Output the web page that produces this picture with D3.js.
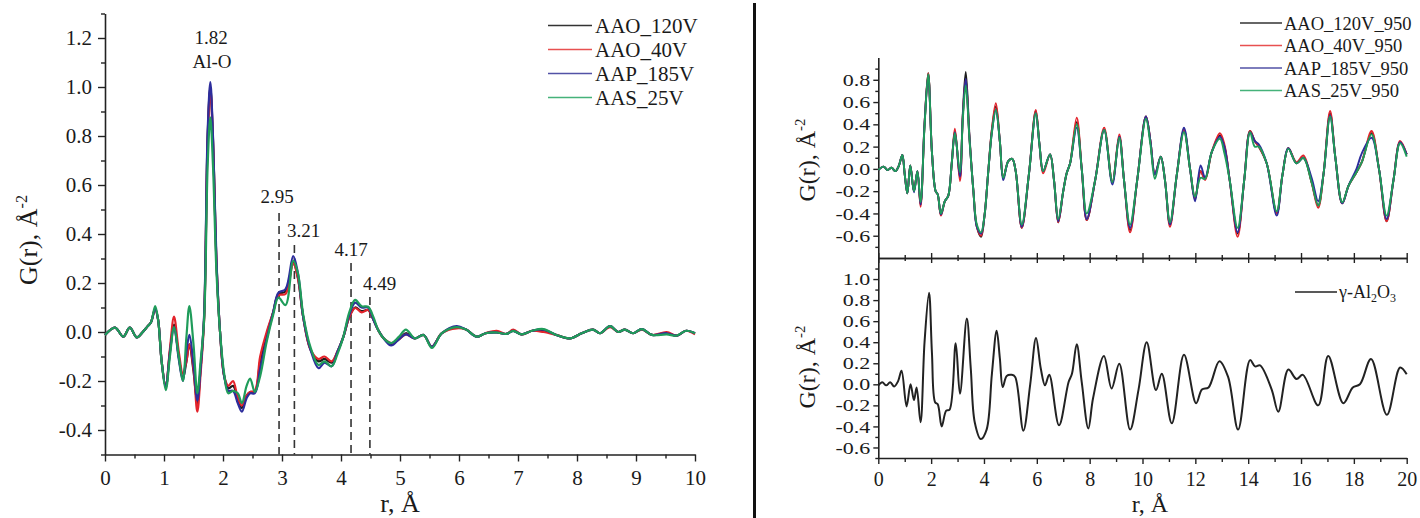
<!DOCTYPE html>
<html>
<head>
<meta charset="utf-8">
<script src="https://cdn.jsdelivr.net/npm/d3@7"></script>
<style>
  body { margin: 0; background: #fff; }
  svg { display: block; font-family: "Liberation Serif", "Times New Roman", serif; }
</style>
</head>
<body>
<svg id="chart" width="1420" height="518"></svg>
<script>
// ---- left panel: G(r) of as-prepared films, r = 0..10 ----
const rLeft = [
  0, 0.17, 0.31, 0.42, 0.54, 0.64, 0.71, 0.78, 0.85, 0.90,
  0.96, 1.03, 1.10, 1.17, 1.25, 1.32, 1.38, 1.43, 1.50, 1.565,
  1.62, 1.68, 1.74, 1.785, 1.83, 1.89, 1.95, 2.02, 2.09, 2.17,
  2.25, 2.32, 2.40, 2.46, 2.54, 2.63, 2.74, 2.85, 2.94, 3.06,
  3.19, 3.27, 3.36, 3.48, 3.62, 3.72, 3.84, 3.94, 4.04, 4.14,
  4.24, 4.35, 4.46, 4.55, 4.63, 4.72, 4.85, 4.98, 5.10, 5.25,
  5.40, 5.54, 5.71, 5.96, 6.12, 6.30, 6.45, 6.64, 6.80, 6.92,
  7.06, 7.24, 7.43, 7.65, 7.88, 8.08, 8.27, 8.39, 8.56, 8.70,
  8.81, 8.95, 9.10, 9.27, 9.52, 9.69, 9.85, 10
];
const gAAO120 = [
  -0.012, 0.018, -0.019, 0.018, -0.022, 0.0, 0.02, 0.04, 0.095, 0.05,
  -0.12, -0.225, -0.08, 0.03, -0.1, -0.19, -0.12, -0.05, -0.16, -0.29,
  -0.15, 0.06, 0.8, 1.0, 0.79, 0.28, 0.0, -0.18, -0.23, -0.22,
  -0.27, -0.31, -0.26, -0.245, -0.245, -0.12, -0.01, 0.08, 0.155, 0.165,
  0.285, 0.22, 0.06, -0.07, -0.12, -0.11, -0.125, -0.08, -0.02, 0.06,
  0.1, 0.085, 0.09, 0.05, 0.008, -0.025, -0.05, -0.03, -0.005, -0.026,
  -0.012, -0.06, -0.005, 0.02, 0.01, -0.019, -0.005, -0.002, -0.008, 0.005,
  -0.01, 0.005, 0.008, -0.012, -0.026, -0.005, 0.01, -0.005, 0.024, 0.0,
  0.01, -0.005, 0.012, -0.012, -0.005, -0.015, 0.005, -0.005
];
const gAAO40 = [
  -0.012, 0.018, -0.019, 0.018, -0.022, 0.0, 0.02, 0.04, 0.095, 0.05,
  -0.12, -0.225, -0.07, 0.063, -0.08, -0.17, -0.12, -0.05, -0.15, -0.325,
  -0.17, 0.05, 0.78, 0.99, 0.78, 0.28, 0.0, -0.18, -0.22, -0.2,
  -0.27, -0.3, -0.26, -0.245, -0.24, -0.1, 0.0, 0.08, 0.15, 0.155,
  0.28, 0.22, 0.06, -0.07, -0.11, -0.1, -0.12, -0.08, -0.02, 0.06,
  0.098, 0.08, 0.09, 0.05, 0.008, -0.025, -0.045, -0.03, -0.01, -0.026,
  -0.012, -0.06, -0.005, 0.015, 0.01, -0.019, -0.005, 0.005, -0.008, 0.01,
  -0.01, 0.005, 0.0, -0.012, -0.026, -0.005, 0.01, -0.005, 0.02, 0.0,
  0.01, -0.005, 0.01, -0.012, 0.0, -0.015, 0.005, -0.01
];
const gAAP185 = [
  -0.012, 0.018, -0.019, 0.018, -0.022, 0.0, 0.02, 0.04, 0.095, 0.05,
  -0.12, -0.225, -0.085, 0.02, -0.11, -0.2, -0.08, -0.012, -0.13, -0.28,
  -0.15, 0.07, 0.82, 1.02, 0.8, 0.29, 0.0, -0.18, -0.24, -0.24,
  -0.29, -0.325, -0.27, -0.25, -0.25, -0.15, -0.03, 0.08, 0.16, 0.175,
  0.31, 0.24, 0.06, -0.07, -0.148, -0.125, -0.14, -0.08, -0.02, 0.07,
  0.12, 0.1, 0.1, 0.05, 0.008, -0.025, -0.055, -0.03, -0.01, -0.026,
  -0.012, -0.06, -0.005, 0.024, 0.01, -0.019, -0.005, -0.002, -0.008, 0.005,
  -0.01, 0.005, 0.01, -0.012, -0.026, -0.005, 0.01, -0.005, 0.024, 0.0,
  0.01, -0.005, 0.012, -0.012, -0.005, -0.015, 0.005, -0.005
];
const gAAS25 = [
  -0.012, 0.018, -0.019, 0.018, -0.022, 0.0, 0.02, 0.04, 0.106, 0.05,
  -0.12, -0.237, -0.1, 0.02, -0.1, -0.2, -0.02, 0.106, -0.05, -0.25,
  -0.12, 0.05, 0.68, 0.876, 0.68, 0.24, 0.0, -0.17, -0.25, -0.24,
  -0.25, -0.29, -0.22, -0.19, -0.245, -0.18, -0.04, 0.07, 0.14, 0.11,
  0.29, 0.24, 0.07, -0.06, -0.135, -0.12, -0.14, -0.09, -0.02, 0.08,
  0.131, 0.105, 0.103, 0.06, 0.008, -0.025, -0.045, -0.02, 0.01, -0.026,
  -0.012, -0.065, -0.005, 0.02, 0.01, -0.019, -0.005, -0.002, -0.008, 0.005,
  -0.01, 0.005, 0.012, -0.012, -0.026, -0.005, 0.01, -0.005, 0.024, 0.0,
  0.01, -0.005, 0.012, -0.012, -0.01, -0.015, 0.005, -0.005
];
const leftNames = ['AAO_120V', 'AAO_40V', 'AAP_185V', 'AAS_25V'];

// peak markers on the left panel
const peakR = [2.95, 3.21, 4.17, 4.49];
const peakLabels = ['2.95', '3.21', '4.17', '4.49'];

// ---- right top: annealed at 950, r = 0..20 ----
const rTop = [
  0, 0.2, 0.35, 0.5, 0.65, 0.78, 0.91, 1.0, 1.10, 1.21,
  1.35, 1.48, 1.60, 1.75, 1.89, 2.03, 2.17, 2.25, 2.37, 2.52,
  2.65, 2.78, 2.90, 3.09, 3.20, 3.31, 3.45, 3.60, 3.73, 3.89,
  4.02, 4.16, 4.30, 4.45, 4.60, 4.73, 4.92, 5.07, 5.20, 5.43,
  5.70, 5.96, 6.10, 6.24, 6.50, 6.65, 6.81, 7.00, 7.13, 7.26,
  7.51, 7.70, 7.89, 8.21, 8.55, 8.86, 9.12, 9.30, 9.53, 9.80,
  10.13, 10.30, 10.47, 10.69, 10.85, 11.04, 11.30, 11.57, 11.80, 11.99,
  12.20, 12.37, 12.62, 12.93, 13.10, 13.30, 13.60, 13.85, 14.07, 14.25,
  14.40, 14.70, 15.08, 15.30, 15.52, 15.83, 16.09, 16.40, 16.65, 16.85,
  17.10, 17.30, 17.56, 17.80, 18.10, 18.30, 18.67, 18.95, 19.24, 19.50,
  19.75, 20
];
const gAAO120_950 = [
  -0.01, 0.02, -0.01, 0.01, -0.02, 0.03, 0.126, -0.05, -0.22, 0.03,
  -0.2, -0.02, -0.32, 0.4, 0.86, 0.15, -0.2, -0.23, -0.41, -0.29,
  -0.24, 0.05, 0.34, -0.08, 0.5, 0.87, 0.3, -0.2, -0.52, -0.61,
  -0.42, -0.03, 0.35, 0.56, 0.25, -0.08, 0.07, 0.09, -0.02, -0.53,
  -0.05, 0.52, 0.22, -0.02, 0.13, -0.1, -0.48, -0.2, -0.04, 0.05,
  0.42, 0.0, -0.46, -0.1, 0.35, -0.12, 0.29, -0.1, -0.55, -0.1,
  0.47, 0.25, -0.05, 0.11, -0.1, -0.5, -0.05, 0.35, 0.0, -0.27,
  -0.02, -0.09, 0.15, 0.3, 0.2, -0.1, -0.58, -0.1, 0.34, 0.25,
  0.2, 0.05, -0.4, -0.05, 0.185, 0.05, 0.1, -0.12, -0.33, -0.05,
  0.5, 0.1, -0.31, -0.15, -0.03, 0.06, 0.32, 0.0, -0.47, -0.1,
  0.24, 0.13
];
const gAAO40_950 = [
  -0.01, 0.02, -0.01, 0.01, -0.02, 0.03, 0.126, -0.05, -0.22, 0.03,
  -0.2, -0.02, -0.34, 0.4, 0.86, 0.15, -0.2, -0.23, -0.42, -0.29,
  -0.24, 0.05, 0.36, -0.11, 0.48, 0.8, 0.28, -0.2, -0.52, -0.6,
  -0.42, -0.03, 0.36, 0.59, 0.25, -0.08, 0.07, 0.09, -0.02, -0.53,
  -0.05, 0.53, 0.22, -0.04, 0.13, -0.1, -0.48, -0.2, -0.04, 0.05,
  0.46, 0.0, -0.46, -0.1, 0.37, -0.12, 0.31, -0.1, -0.57, -0.1,
  0.47, 0.25, -0.05, 0.11, -0.1, -0.52, -0.05, 0.35, 0.0, -0.27,
  -0.02, -0.1, 0.15, 0.32, 0.22, -0.1, -0.61, -0.1, 0.34, 0.25,
  0.2, 0.05, -0.4, -0.05, 0.185, 0.06, 0.12, -0.12, -0.35, -0.05,
  0.52, 0.1, -0.31, -0.15, -0.03, 0.06, 0.34, 0.0, -0.47, -0.1,
  0.25, 0.13
];
const gAAP185_950 = [
  -0.01, 0.02, -0.01, 0.01, -0.02, 0.03, 0.126, -0.05, -0.22, 0.03,
  -0.21, -0.02, -0.32, 0.4, 0.84, 0.15, -0.2, -0.23, -0.41, -0.29,
  -0.24, 0.05, 0.33, -0.07, 0.48, 0.81, 0.28, -0.2, -0.52, -0.58,
  -0.42, -0.03, 0.33, 0.53, 0.25, -0.1, 0.07, 0.09, -0.02, -0.52,
  -0.05, 0.5, 0.22, -0.02, 0.13, -0.1, -0.47, -0.2, -0.04, 0.05,
  0.37, 0.0, -0.45, -0.1, 0.35, -0.14, 0.29, -0.1, -0.53, -0.1,
  0.47, 0.25, -0.05, 0.11, -0.1, -0.5, -0.05, 0.37, 0.0, -0.29,
  0.03, -0.08, 0.15, 0.29, 0.2, -0.1, -0.57, -0.1, 0.33, 0.25,
  0.22, 0.05, -0.42, -0.05, 0.185, 0.05, 0.1, -0.08, -0.29, -0.05,
  0.48, 0.1, -0.31, -0.15, 0.0, 0.14, 0.28, 0.0, -0.45, -0.1,
  0.24, 0.13
];
const gAAS25_950 = [
  -0.01, 0.02, -0.01, 0.01, -0.02, 0.03, 0.126, -0.05, -0.22, 0.03,
  -0.2, -0.02, -0.3, 0.38, 0.85, 0.15, -0.2, -0.23, -0.4, -0.29,
  -0.24, 0.05, 0.32, -0.03, 0.45, 0.75, 0.27, -0.2, -0.5, -0.57,
  -0.42, -0.03, 0.33, 0.53, 0.25, -0.08, 0.07, 0.09, -0.02, -0.5,
  -0.05, 0.5, 0.22, -0.02, 0.13, -0.1, -0.45, -0.2, -0.04, 0.05,
  0.4, 0.0, -0.4, -0.1, 0.35, -0.12, 0.28, -0.1, -0.5, -0.1,
  0.45, 0.22, -0.09, 0.11, -0.1, -0.48, -0.05, 0.33, 0.0, -0.25,
  -0.08, -0.09, 0.15, 0.27, 0.14, -0.1, -0.53, -0.1, 0.33, 0.2,
  0.2, 0.05, -0.38, -0.05, 0.18, 0.05, 0.1, -0.12, -0.33, -0.05,
  0.47, 0.1, -0.3, -0.15, -0.03, 0.06, 0.31, 0.0, -0.42, -0.1,
  0.23, 0.11
];
const topNames = ['AAO_120V_950', 'AAO_40V_950', 'AAP_185V_950', 'AAS_25V_950'];

// ---- right bottom: gamma-Al2O3 reference ----
const rGamma = [
  0, 0.15, 0.3, 0.45, 0.6, 0.75, 0.88, 1.07, 1.22, 1.35,
  1.45, 1.60, 1.75, 1.92, 2.03, 2.15, 2.25, 2.40, 2.57, 2.70,
  2.93, 3.09, 3.35, 3.50, 3.65, 3.88, 4.10, 4.30, 4.48, 4.60,
  4.71, 4.86, 5.05, 5.18, 5.49, 5.75, 5.97, 6.15, 6.31, 6.47,
  6.84, 7.20, 7.33, 7.51, 7.70, 7.95, 8.13, 8.54, 8.83, 9.12,
  9.53, 9.85, 10.16, 10.51, 10.73, 11.11, 11.57, 12.03, 12.25, 12.5,
  12.91, 13.24, 13.62, 14.07, 14.26, 14.45, 14.89, 15.14, 15.52, 15.83,
  16.07, 16.65, 17.03, 17.6, 17.96, 18.23, 18.65, 19.25, 19.75, 20
];
const gGamma = [
  -0.01, 0.02, -0.01, 0.02, -0.02, 0.03, 0.13, -0.21, 0.0, -0.15,
  -0.03, -0.36, 0.4, 0.87, 0.3, -0.17, -0.19, -0.4, -0.25, -0.24,
  0.39, -0.09, 0.625, 0.15, -0.36, -0.52, -0.43, 0.1, 0.51, 0.25,
  -0.025, 0.08, 0.09, 0.07, -0.44, 0.0, 0.44, 0.15, -0.01, 0.09,
  -0.39, 0.02, 0.1, 0.38, 0.02, -0.42, -0.13, 0.27, -0.04, 0.195,
  -0.43, -0.05, 0.4, -0.055, 0.1, -0.37, 0.28, -0.18, -0.05, -0.03,
  0.22, 0.07, -0.43, 0.23, 0.17, 0.18, -0.05, -0.26, 0.14, 0.05,
  0.09, -0.2, 0.27, -0.18, -0.03, 0.0, 0.24, -0.29, 0.16, 0.095
];

const lineColors = ['#1c1c1c', '#e3232b', '#2d2d9c', '#1f9c5a'];
const legendColors = ['#333333', '#e85050', '#5252a6', '#45b27a'];

const svg = d3.select('#chart');
svg.append('rect').attr('width', 1420).attr('height', 518).attr('fill', '#fff');

const fmt = (d) => d.toFixed(1);

// draws an axis with labelled major ticks and a second pass of short minor ticks
function axisPair(g, axisFn, scale, major, minor, size, minorSize, labels) {
  const a = axisFn(scale).tickValues(major).tickSize(size).tickSizeOuter(0);
  if (labels) a.tickFormat(labels); else a.tickFormat('');
  g.call(a);
  const m = axisFn(scale).tickValues(minor).tickSize(minorSize).tickSizeOuter(0).tickFormat('');
  g.append('g').call(m).select('.domain').remove();
  g.selectAll('line').attr('stroke', '#222').attr('stroke-width', 1.4);
  g.selectAll('.domain').attr('stroke', '#222').attr('stroke-width', 1.6);
  return g;
}

function yTitle(x, y, size) {
  const t = svg.append('text')
    .attr('transform', `translate(${x},${y}) rotate(-90)`)
    .attr('text-anchor', 'middle')
    .attr('font-size', size)
    .attr('fill', '#1a1a1a');
  t.append('tspan').text('G(r), Å');
  t.append('tspan').attr('dy', -size * 0.4).attr('font-size', size * 0.62).text('-2');
  return t;
}

// ================= LEFT PANEL =================
const xL = d3.scaleLinear().domain([0, 10]).range([105, 695]);
const yL = d3.scaleLinear().domain([-0.5, 1.3]).range([454.5, 13.5]);

const gxL = svg.append('g').attr('transform', `translate(0,${yL(-0.5)})`);
axisPair(gxL, d3.axisBottom, xL, d3.range(0, 11), d3.range(0.5, 10, 1), 7, 4, (d) => d);
gxL.selectAll('text').attr('font-size', 21).attr('fill', '#1a1a1a').attr('font-family', 'Liberation Serif').attr('y', 16);

const gyL = svg.append('g').attr('transform', `translate(${xL(0)},0)`);
axisPair(gyL, d3.axisLeft, yL, d3.range(-4, 13, 2).map((d) => d / 10),
  d3.range(-5, 14, 2).map((d) => d / 10), 7, 4, fmt);
gyL.selectAll('text').attr('font-size', 21).attr('fill', '#1a1a1a').attr('font-family', 'Liberation Serif').attr('x', -13);

yTitle(37, 240, 26);
svg.append('text').attr('x', 400).attr('y', 512).attr('text-anchor', 'middle')
  .attr('font-size', 26).attr('fill', '#1a1a1a').text('r, Å');

// dashed peak markers
const peakTop = [213, 245, 263, 297];
const labelPos = [[277, 203, 'middle'], [287, 237, 'start'], [351, 256, 'middle'], [363, 290, 'start']];
svg.selectAll('.peak').data(peakR).join('line')
  .attr('class', 'peak')
  .attr('x1', (d) => xL(d)).attr('x2', (d) => xL(d))
  .attr('y1', (d, i) => peakTop[i]).attr('y2', yL(-0.5))
  .attr('stroke', '#333').attr('stroke-width', 1.6).attr('stroke-dasharray', '8,5');
svg.selectAll('.peaklab').data(peakLabels).join('text')
  .attr('class', 'peaklab')
  .attr('x', (d, i) => labelPos[i][0]).attr('y', (d, i) => labelPos[i][1])
  .attr('text-anchor', (d, i) => labelPos[i][2])
  .attr('font-size', 19).attr('fill', '#1a1a1a').text((d) => d);

svg.append('text').attr('x', 211).attr('y', 44).attr('text-anchor', 'middle')
  .attr('font-size', 19).attr('fill', '#1a1a1a').text('1.82');
svg.append('text').attr('x', 212).attr('y', 68).attr('text-anchor', 'middle')
  .attr('font-size', 19).attr('fill', '#1a1a1a').text('Al-O');

const lineL = d3.line().curve(d3.curveCatmullRom.alpha(0.5))
  .x((d) => xL(d[0])).y((d) => yL(d[1]));
[gAAO120, gAAO40, gAAP185, gAAS25].forEach((vals, i) => {
  svg.append('path')
    .datum(rLeft.map((r, k) => [r, vals[k]]))
    .attr('fill', 'none').attr('stroke', lineColors[i]).attr('stroke-width', 2.2)
    .attr('d', lineL);
});

// legend
leftNames.forEach((name, i) => {
  const y = 25.5 + i * 24;
  svg.append('line').attr('x1', 548).attr('x2', 592).attr('y1', y).attr('y2', y)
    .attr('stroke', legendColors[i]).attr('stroke-width', 1.6);
  svg.append('text').attr('x', 595).attr('y', y + 7.5).attr('font-size', 21)
    .attr('fill', '#1a1a1a').text(name);
});

// divider
svg.append('line').attr('x1', 754.5).attr('x2', 754.5).attr('y1', 3).attr('y2', 518)
  .attr('stroke', '#111').attr('stroke-width', 3);

// ================= RIGHT PANELS =================
const xR = d3.scaleLinear().domain([0, 20]).range([878.3, 1406.7]);
const yT = d3.scaleLinear().domain([-0.8, 1.0]).range([258, 57.5]);
const yB = d3.scaleLinear().domain([-0.7, 1.2]).range([458, 258]);

// shared middle line: ticks up into top panel, down into bottom panel
const gMidUp = svg.append('g').attr('transform', `translate(0,258)`);
axisPair(gMidUp, d3.axisTop, xR, d3.range(0, 21, 2), d3.range(1, 20, 2), 5, 3, null);
const gMidDn = svg.append('g').attr('transform', `translate(0,258)`);
axisPair(gMidDn, d3.axisBottom, xR, d3.range(0, 21, 2), d3.range(1, 20, 2), 5, 3, null);

const gxB = svg.append('g').attr('transform', `translate(0,458)`);
axisPair(gxB, d3.axisBottom, xR, d3.range(0, 21, 2), d3.range(1, 20, 2), 6, 4, (d) => d);
gxB.selectAll('text').attr('font-size', 20).attr('fill', '#1a1a1a').attr('font-family', 'Liberation Serif').attr('y', 14);

const gyT = svg.append('g').attr('transform', `translate(${xR(0)},0)`);
axisPair(gyT, d3.axisLeft, yT, d3.range(-6, 9, 2).map((d) => d / 10),
  d3.range(-7, 10, 2).map((d) => d / 10), 5, 3, fmt);
const gyB = svg.append('g').attr('transform', `translate(${xR(0)},0)`);
axisPair(gyB, d3.axisLeft, yB, d3.range(-6, 11, 2).map((d) => d / 10),
  d3.range(-7, 12, 2).map((d) => d / 10), 5, 3, fmt);
[gyT, gyB].forEach((g) => {
  g.selectAll('text').attr('font-size', 22).attr('fill', '#1a1a1a').attr('font-family', 'Liberation Serif')
    .attr('x', -8).attr('dy', '0.34em').attr('transform', 'scale(1,0.75)');
});

yTitle(815, 160, 24);
yTitle(815, 367, 24);
svg.append('text').attr('x', 1150).attr('y', 512).attr('text-anchor', 'middle')
  .attr('font-size', 24).attr('fill', '#1a1a1a').text('r, Å');

const lineT = d3.line().curve(d3.curveCatmullRom.alpha(0.5))
  .x((d) => xR(d[0])).y((d) => yT(d[1]));
[gAAO120_950, gAAO40_950, gAAP185_950, gAAS25_950].forEach((vals, i) => {
  svg.append('path')
    .datum(rTop.map((r, k) => [r, vals[k]]))
    .attr('fill', 'none').attr('stroke', lineColors[i]).attr('stroke-width', 1.9)
    .attr('d', lineT);
});

topNames.forEach((name, i) => {
  const y = 23 + i * 22.5;
  svg.append('line').attr('x1', 1240).attr('x2', 1282).attr('y1', y).attr('y2', y)
    .attr('stroke', legendColors[i]).attr('stroke-width', 1.6);
  svg.append('text').attr('x', 1284).attr('y', y + 6.5).attr('font-size', 18.5)
    .attr('fill', '#1a1a1a').text(name);
});

const lineB = d3.line().curve(d3.curveCatmullRom.alpha(0.5))
  .x((d) => xR(d[0])).y((d) => yB(d[1]));
svg.append('path')
  .datum(rGamma.map((r, k) => [r, gGamma[k]]))
  .attr('fill', 'none').attr('stroke', '#222').attr('stroke-width', 2)
  .attr('d', lineB);

svg.append('line').attr('x1', 1295).attr('x2', 1337).attr('y1', 292).attr('y2', 292)
  .attr('stroke', '#222').attr('stroke-width', 1.6);
const gl = svg.append('text').attr('x', 1339).attr('y', 298).attr('font-size', 18).attr('fill', '#1a1a1a');
gl.append('tspan').text('γ-Al');
gl.append('tspan').attr('font-size', 12).attr('dy', 4).text('2');
gl.append('tspan').attr('dy', -4).text('O');
gl.append('tspan').attr('font-size', 12).attr('dy', 4).text('3');
</script>
</body>
</html>
